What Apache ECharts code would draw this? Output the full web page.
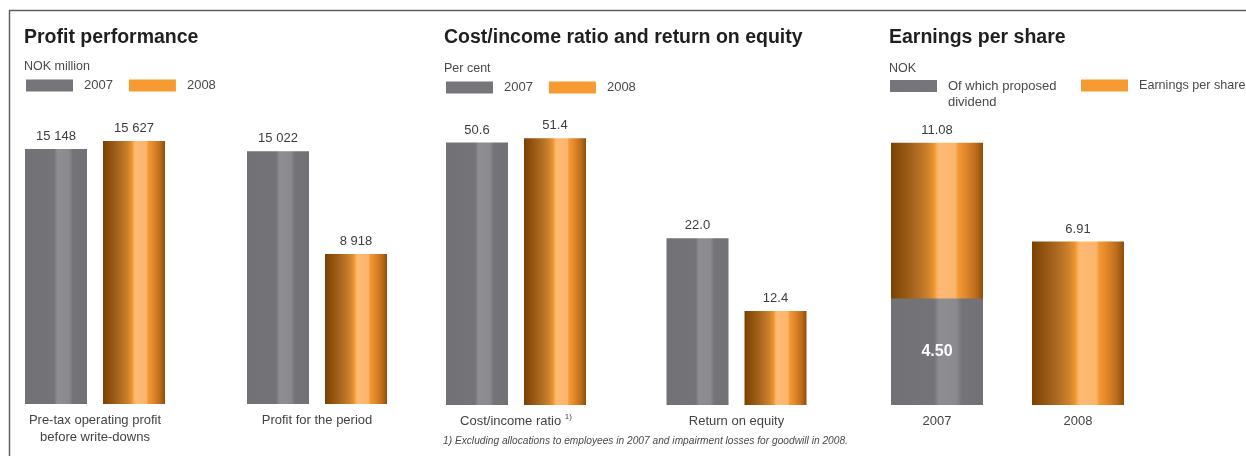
<!DOCTYPE html>
<html>
<head>
<meta charset="utf-8">
<script src="https://cdn.jsdelivr.net/npm/echarts@6/dist/echarts.min.js"></script>
<style>
  html, body { margin: 0; padding: 0; background: #fff; }
  #chart { width: 1246px; height: 456px; }
</style>
</head>
<body>
<div id="chart"></div>
<script>
// Profit performance, NOK million
const profitCategories = ['Pre-tax operating profit\nbefore write-downs', 'Profit for the period'];
const profit2007 = [15148, 15022];
const profit2008 = [15627, 8918];

// Cost/income ratio and return on equity, per cent
const ratioCategories = ['Cost/income ratio', 'Return on equity'];
const ratio2007 = [50.6, 22.0];
const ratio2008 = [51.4, 12.4];

// Earnings per share, NOK
const epsYears = ['2007', '2008'];
const epsTotal = [11.08, 6.91];
const epsDividend = [4.50, null];

const FONT = 'Liberation Sans, Arial, sans-serif';
const GRAY = '#76757a';
const ORANGE = '#f59b31';

// Cylinder-like shading across each bar
const grayFill = {
  type: 'linear', x: 0, y: 0, x2: 1, y2: 0,
  colorStops: [
    { offset: 0, color: '#727176' },
    { offset: 0.47, color: '#747378' },
    { offset: 0.52, color: '#8e8d92' },
    { offset: 0.71, color: '#8b8a8f' },
    { offset: 0.77, color: '#747378' },
    { offset: 1, color: '#727176' }
  ]
};
const orangeFill = {
  type: 'linear', x: 0, y: 0, x2: 1, y2: 0,
  colorStops: [
    { offset: 0, color: '#7a4101' },
    { offset: 0.08, color: '#8a4c0a' },
    { offset: 0.25, color: '#a8661f' },
    { offset: 0.40, color: '#cd812c' },
    { offset: 0.47, color: '#f09530' },
    { offset: 0.50, color: '#fbb160' },
    { offset: 0.53, color: '#fdbb74' },
    { offset: 0.70, color: '#fbb46c' },
    { offset: 0.73, color: '#f39832' },
    { offset: 0.80, color: '#e58a2c' },
    { offset: 0.92, color: '#bb6c1c' },
    { offset: 1, color: '#8f4d08' }
  ]
};

const spaced = v => String(v).replace(/\B(?=(\d{3})+(?!\d))/g, ' ');
const valueLabel = fmt => ({
  show: true, position: 'top', distance: 6,
  color: '#3d3d3d', fontSize: 13, fontFamily: FONT,
  formatter: p => fmt(p.value)
});

const catAxisLabel = {
  color: '#444', fontSize: 13, fontFamily: FONT, lineHeight: 17, margin: 8,
  formatter: v => v === 'Cost/income ratio' ? v + ' {sup|1)}' : v,
  rich: { sup: { fontSize: 8, color: '#444', fontFamily: FONT, padding: [0, 0, 9, 0] } }
};
const catAxis = (gridIndex, data) => ({
  type: 'category', gridIndex, data,
  axisLine: { show: false }, axisTick: { show: false }, splitLine: { show: false },
  axisLabel: catAxisLabel
});
const valAxis = (gridIndex, max) => ({
  type: 'value', gridIndex, min: 0, max, show: false, splitLine: { show: false }
});

const pairSeries = (axisIndex, v07, v08, fmt) => ([
  { name: '2007', type: 'bar', xAxisIndex: axisIndex, yAxisIndex: axisIndex,
    data: v07, barWidth: 62, barGap: '25.8%', itemStyle: { color: grayFill },
    label: valueLabel(fmt) },
  { name: '2008', type: 'bar', xAxisIndex: axisIndex, yAxisIndex: axisIndex,
    data: v08, barWidth: 62, barGap: '25.8%', itemStyle: { color: orangeFill },
    label: valueLabel(fmt) }
]);

const titleStyle = { fontSize: 19.5, fontWeight: 'bold', color: '#1f1f1f', fontFamily: FONT };
const subStyle = { fontSize: 12.5, color: '#4a4a4a', fontFamily: FONT };
const legendText = { color: '#4a4a4a', fontSize: 13, fontFamily: FONT, padding: [0, 0, 0, 6] };
const yearLegendData = [
  { name: '2007', itemStyle: { color: GRAY } },
  { name: '2008', itemStyle: { color: ORANGE } }
];

const option = {
  animation: false,
  backgroundColor: '#fff',
  title: [
    { left: 24, top: 28, padding: 0, itemGap: 12, text: 'Profit performance', subtext: 'NOK million', textStyle: titleStyle, subtextStyle: subStyle },
    { left: 444, top: 28, padding: 0, itemGap: 14, text: 'Cost/income ratio and return on equity', subtext: 'Per cent', textStyle: titleStyle, subtextStyle: subStyle },
    { left: 889, top: 28, padding: 0, itemGap: 14, text: 'Earnings per share', subtext: 'NOK', textStyle: titleStyle, subtextStyle: subStyle }
  ],
  legend: [
    { left: 26, top: 79, padding: 0, itemGap: 16, itemWidth: 47, itemHeight: 12, icon: 'rect',
      selectedMode: false, data: yearLegendData, textStyle: legendText },
    { left: 446, top: 81, padding: 0, itemGap: 16, itemWidth: 47, itemHeight: 12, icon: 'rect',
      selectedMode: false, data: yearLegendData, textStyle: legendText },
    // leading blank line keeps the first text line level with the swatch
    { left: 890, top: 62, padding: 0, itemWidth: 47, itemHeight: 12, icon: 'rect', selectedMode: false,
      data: [{ name: 'Of which proposed dividend', itemStyle: { color: GRAY } }],
      formatter: () => '\nOf which proposed\ndividend',
      textStyle: Object.assign({}, legendText, { lineHeight: 16 }) },
    { left: 1081, top: 79, padding: 0, itemWidth: 47, itemHeight: 12, icon: 'rect', selectedMode: false,
      data: [{ name: 'Earnings per share', itemStyle: { color: ORANGE } }],
      textStyle: Object.assign({}, legendText, { fontSize: 12.6 }) }
  ],
  grid: [
    { left: 5, width: 180, top: 101, bottom: 52 },
    { left: 227, width: 180, top: 101, bottom: 52 },
    { left: 426, width: 180, top: 102, bottom: 51 },
    { left: 646.5, width: 180, top: 102, bottom: 51 },
    { left: 866.5, width: 282, top: 102, bottom: 51 }
  ],
  xAxis: [
    catAxis(0, profitCategories.slice(0, 1)),
    catAxis(1, profitCategories.slice(1, 2)),
    catAxis(2, ratioCategories.slice(0, 1)),
    catAxis(3, ratioCategories.slice(1, 2)),
    catAxis(4, epsYears)
  ],
  yAxis: [
    valAxis(0, 18000),
    valAxis(1, 18000),
    valAxis(2, 58.4),
    valAxis(3, 40),
    valAxis(4, 12.8)
  ],
  series: [
    ...pairSeries(0, profit2007.slice(0, 1), profit2008.slice(0, 1), spaced),
    ...pairSeries(1, profit2007.slice(1, 2), profit2008.slice(1, 2), spaced),
    ...pairSeries(2, ratio2007.slice(0, 1), ratio2008.slice(0, 1), v => v.toFixed(1)),
    ...pairSeries(3, ratio2007.slice(1, 2), ratio2008.slice(1, 2), v => v.toFixed(1)),
    { name: 'Earnings per share', type: 'bar', xAxisIndex: 4, yAxisIndex: 4,
      data: epsTotal, barWidth: 92, barGap: '-100%', z: 2,
      itemStyle: { color: orangeFill }, label: valueLabel(v => v.toFixed(2)) },
    { name: 'Of which proposed dividend', type: 'bar', xAxisIndex: 4, yAxisIndex: 4,
      data: epsDividend, barWidth: 92, barGap: '-100%', z: 3,
      itemStyle: { color: grayFill },
      label: { show: true, position: 'inside', color: '#fff', fontSize: 16, fontWeight: 'bold',
               fontFamily: FONT, formatter: p => p.value.toFixed(2) } }
  ],
  graphic: [
    { type: 'polyline', silent: true,
      shape: { points: [[9.5, 456], [9.5, 10.5], [1246, 10.5]] },
      style: { stroke: '#5f5f5f', lineWidth: 1.5, fill: null } },
    { type: 'text', left: 443, top: 436, silent: true,
      style: { text: '1) Excluding allocations to employees in 2007 and impairment losses for goodwill in 2008.',
               fill: '#4a4a4a', fontSize: 10.2, fontStyle: 'italic', fontFamily: FONT } }
  ]
};

const chart = echarts.init(document.getElementById('chart'), null, { renderer: 'canvas' });
chart.setOption(option);
</script>
</body>
</html>
